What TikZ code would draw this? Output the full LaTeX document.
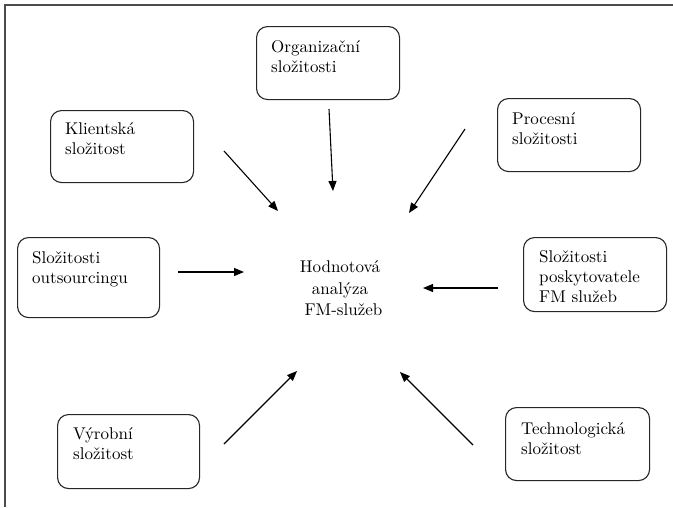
\documentclass[tikz,border=0pt]{standalone}
\usepackage{fontspec}
\newfontfamily\lmten{lmroman10-regular}[Extension=.otf]
\usetikzlibrary{arrows.meta}
\begin{document}
\begin{tikzpicture}[x=1pt,y=-1pt,
  box/.style={draw=black!85,line width=1.1pt,rounded corners=11pt,inner sep=0pt},
  txt/.style={anchor=north west,inner sep=0pt,align=left,font=\lmten\fontsize{17}{20}\selectfont},
  ctxt/.style={inner sep=0pt,align=center,font=\lmten\fontsize{17}{21.5}\selectfont},
  arr/.style={line width=1.1pt,-{Triangle[length=10pt,width=8pt]}},
  frame/.style={draw=black!70,line width=1.6pt}]
\useasboundingbox (0,0) rectangle (673,507);
% frame
\coordinate (fa) at (5,507);
\coordinate (fb) at (5,5);
\coordinate (fc) at (673,5);
\draw[frame] (fa) -- (fb) -- (fc);
% boxes
\node[box,minimum width=143pt,minimum height=73pt,anchor=north west] (org) at (256,26) {};
\node[box,minimum width=143pt,minimum height=72pt,anchor=north west] (kli) at (50,110) {};
\node[box,minimum width=143pt,minimum height=73pt,anchor=north west] (pro) at (497,98) {};
\node[box,minimum width=142pt,minimum height=80pt,anchor=north west] (out) at (17,237) {};
\node[box,minimum width=143pt,minimum height=74pt,anchor=north west] (pos) at (523,237) {};
\node[box,minimum width=142pt,minimum height=74pt,anchor=north west] (vyr) at (57,414) {};
\node[box,minimum width=144pt,minimum height=73pt,anchor=north west] (tec) at (505,407) {};
% texts
\node[txt] (torg) at (271,40.5) {Organizační\\složitosti};
\node[txt] (tkli) at (65,122.5) {Klientská\\složitost};
\node[txt] (tpro) at (512,112.5) {Procesní\\složitosti};
\node[txt] (tout) at (32,251.5) {Složitosti\\outsourcingu};
\begin{scope}
\clip (523,237) rectangle (666,301);
\node[txt] (tpos) at (539,250.5) {Složitosti\\poskytovatele\\FM služeb};
\end{scope}
\node[txt] (tvyr) at (73,427.5) {Výrobní\\složitost};
\node[txt] (ttec) at (521,422.5) {Technologická\\složitost};
\node[ctxt,anchor=north] (cen) at (340,260.5) {Hodnotová\\analýza\\\hspace*{7pt}FM-služeb};
% arrow endpoints
\coordinate (a1) at (224,151); \coordinate (b1) at (278,211);
\coordinate (a2) at (329,109); \coordinate (b2) at (333,191);
\coordinate (a3) at (465,129); \coordinate (b3) at (409,213);
\coordinate (a4) at (178,272); \coordinate (b4) at (244,272);
\coordinate (a5) at (498,288); \coordinate (b5) at (423,288);
\coordinate (a6) at (224,444); \coordinate (b6) at (297,371);
\coordinate (a7) at (473,445); \coordinate (b7) at (400,372);
\draw[arr] (a1) -- (b1);
\draw[arr] (a2) -- (b2);
\draw[arr] (a3) -- (b3);
\draw[arr] (a4) -- (b4);
\draw[arr] (a5) -- (b5);
\draw[arr] (a6) -- (b6);
\draw[arr] (a7) -- (b7);
\end{tikzpicture}
\end{document}
